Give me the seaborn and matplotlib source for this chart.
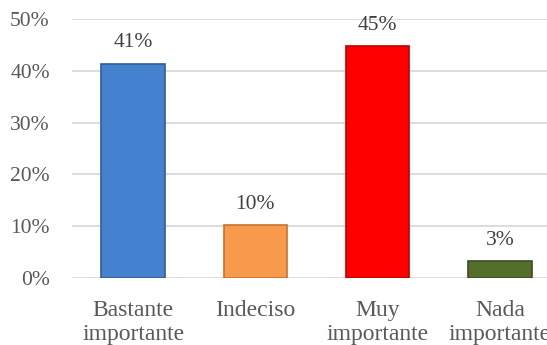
import matplotlib
matplotlib.use("Agg")
import matplotlib.pyplot as plt
import seaborn as sns
import pandas as pd
from matplotlib.ticker import PercentFormatter, MultipleLocator

categories = ["Bastante\nimportante", "Indeciso", "Muy\nimportante", "Nada\nimportante"]
values = [0.414, 0.102, 0.448, 0.033]
labels = ["41%", "10%", "45%", "3%"]
colors = ["#4482D0", "#F79A4C", "#FF0000", "#566E2C"]
edges = ["#2E5D96", "#C9722E", "#C00000", "#3B4D1D"]

sns.set_theme(style="white")
plt.rcParams["font.family"] = ["Liberation Serif", "DejaVu Serif"]

df = pd.DataFrame({"cat": categories, "val": values})

fig = plt.figure(figsize=(5.47, 3.45), dpi=100)
ax = fig.add_axes([72/547, 67/345, 489/547, 259/345])
sns.barplot(data=df, x="cat", y="val", hue="cat", palette=colors, legend=False,
            width=0.52, ax=ax, saturation=1)
for p, ec in zip(ax.patches, edges):
    p.set_edgecolor(ec)
    p.set_linewidth(1.2)

for p, lab in zip(ax.patches, labels):
    ax.annotate(lab, (p.get_x() + p.get_width()/2, p.get_height()),
                xytext=(0, 15), textcoords="offset points",
                ha="center", va="center", fontsize=15.5, color="#404040")

ax.set_ylim(0, 0.5)
ax.set_xlim(-0.5, 3.5)
ax.yaxis.set_major_locator(MultipleLocator(0.1))
ax.yaxis.set_major_formatter(PercentFormatter(1.0, decimals=0))
ax.grid(axis="y", color="#D9D9D9", linewidth=1.3)
ax.set_axisbelow(True)
for s in ax.spines.values():
    s.set_visible(False)
ax.set_xlabel("")
ax.set_ylabel("")
ax.tick_params(axis="y", length=0, pad=16, labelsize=15.5, labelcolor="#595959")
ax.tick_params(axis="x", length=0, pad=15.5, labelsize=17, labelcolor="#595959")
for t in ax.get_xticklabels():
    t.set_linespacing(1.22)

fig.savefig("out.png", dpi=100)
